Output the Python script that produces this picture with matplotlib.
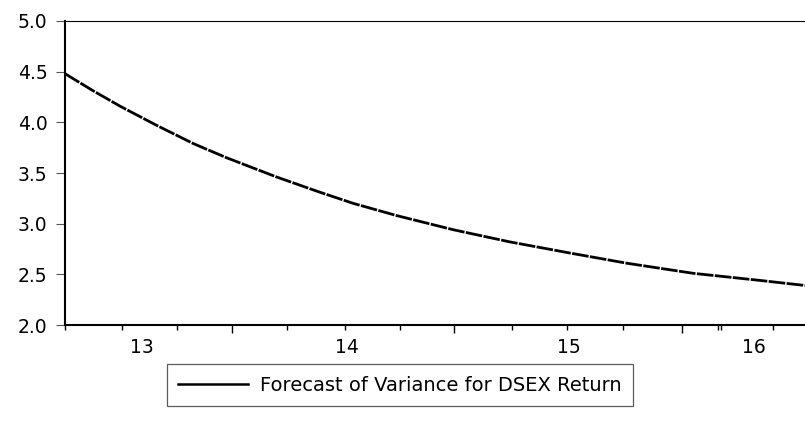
"""
Forecast of variance for DSEX return (EViews style line chart)
"""

import matplotlib
matplotlib.use("Agg")
import matplotlib.pyplot as plt
from matplotlib.lines import Line2D

# 資料: 年份 (小數) 與預測變異數
years = [2013.260, 2013.386, 2013.504, 2013.667, 2013.830, 2013.978,
         2014.200, 2014.392, 2014.540, 2014.732, 2014.984, 2015.235,
         2015.502, 2015.753, 2016.049, 2016.345, 2016.545]
variance = [4.48, 4.31, 4.16, 3.97, 3.79, 3.65,
            3.46, 3.31, 3.20, 3.08, 2.94, 2.82,
            2.71, 2.61, 2.51, 2.44, 2.39]

year_labels = ["13", "14", "15", "16"]
label_pos = [2013.60, 2014.51, 2015.496, 2016.32]
year_ticks = [2014.0, 2014.988, 2016.0]
quarter_ticks = [2013.260, 2013.512, 2013.756, 2014.245, 2014.503, 2014.747,
                 2015.244, 2015.488, 2015.735, 2016.160, 2016.174, 2016.404]
y_ticks = [2.0, 2.5, 3.0, 3.5, 4.0, 4.5, 5.0]

legend_label = "Forecast of Variance for DSEX Return"

plt.rcParams["font.family"] = ["DejaVu Sans"]

fig = plt.figure(figsize=(8.05, 4.23), dpi=100)
ax = fig.add_axes([65 / 805, 1 - 325 / 423, 740 / 805, 304 / 423])

ax.plot(years, variance, color="black", linewidth=2.0,
        linestyle=(0, (6, 0.5)), solid_joinstyle="round")

ax.set_xlim(2013.26, 2016.545)
ax.set_ylim(2.0, 5.0)

# y 軸
ax.set_yticks(y_ticks)
ax.set_yticklabels([f"{v:.1f}" for v in y_ticks])
ax.tick_params(axis="y", direction="out", length=6.5, width=0.8,
               color="#555555", pad=6, labelsize=13.5)

# x 軸: 長刻度 = 年, 短刻度 = 季
ax.set_xticks(year_ticks)
ax.set_xticklabels([])
ax.set_xticks(quarter_ticks, minor=True)
ax.tick_params(axis="x", which="major", direction="out", length=6,
               width=1.0, color="black")
ax.tick_params(axis="x", which="minor", direction="out", length=3.3,
               width=1.0, color="black")

for lab, pos in zip(year_labels, label_pos):
    ax.annotate(lab, xy=(pos, 0), xycoords=("data", "axes fraction"),
                xytext=(0, -9.5), textcoords="offset points",
                ha="center", va="top", fontsize=13.5)

for side in ["left", "bottom"]:
    ax.spines[side].set_linewidth(1.5)
ax.spines["top"].set_linewidth(0.8)
ax.spines["right"].set_visible(False)

# 圖例
handle = Line2D([], [], color="black", linewidth=1.8)
leg = fig.legend([handle], [legend_label], loc="center",
                 bbox_to_anchor=(400 / 805, 1 - 385 / 423),
                 fontsize=14, frameon=True, fancybox=False,
                 handlelength=3.6, handletextpad=0.6, borderpad=0.6,
                 borderaxespad=0)
leg.get_frame().set_edgecolor("#333333")
leg.get_frame().set_linewidth(0.9)

fig.savefig("out.png", dpi=100)
